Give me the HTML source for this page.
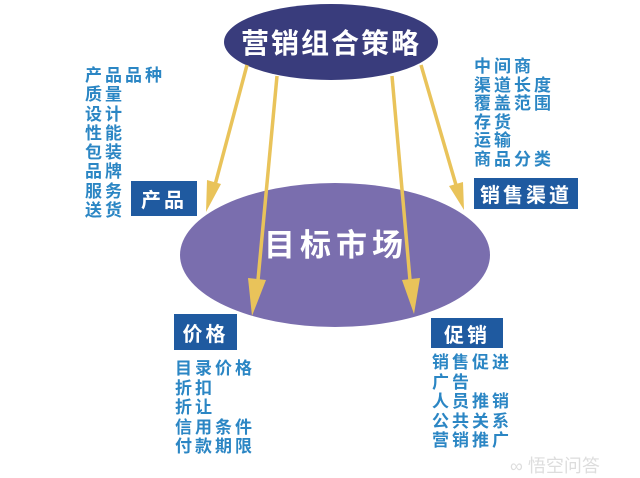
<!DOCTYPE html>
<html><head><meta charset="utf-8"><style>
body{margin:0;width:640px;height:478px;background:#fff;overflow:hidden;position:relative;font-family:"Liberation Sans","Noto Sans CJK SC",sans-serif;font-weight:bold}
.l{position:absolute;color:#2b86c4;font-size:17px;line-height:19.3px;letter-spacing:3px;white-space:pre}
.b{position:absolute;background:#1f5aa0;color:#fff;font-size:20px;display:flex;align-items:center;justify-content:center;letter-spacing:3px}
svg{position:absolute;left:0;top:0}
</style></head><body>
<svg width="640" height="478">
<defs><marker id="a" markerWidth="6" markerHeight="10" refX="3" refY="9" orient="auto" markerUnits="userSpaceOnUse" viewBox="0 0 6 10"></marker></defs>
<ellipse cx="331" cy="42" rx="107" ry="38" fill="#393c7c"/>
<ellipse cx="335" cy="255" rx="155" ry="72" fill="#7a6eae"/>
<g stroke="#e9c35a" stroke-width="3.5" fill="#e9c35a">
<line x1="247" y1="65" x2="215" y2="185"/>
<polygon points="206,212 207,180 221,184" stroke="none"/>
<line x1="277" y1="76" x2="258" y2="280"/>
<polygon points="252,316 248,278 266,280" stroke="none"/>
<line x1="392" y1="76" x2="410" y2="280"/>
<polygon points="414,314 402,280 420,278" stroke="none"/>
<line x1="421" y1="65" x2="456" y2="185"/>
<polygon points="464,210 449,186 463,182" stroke="none"/>
</g>
<text x="331" y="53" fill="#fff" font-size="28" text-anchor="middle" font-family="Liberation Sans,Noto Sans CJK SC,sans-serif" font-weight="bold" letter-spacing="2">营销组合策略</text>
<text x="336" y="256" fill="#fff" font-size="31" text-anchor="middle" font-family="Liberation Sans,Noto Sans CJK SC,sans-serif" font-weight="bold" letter-spacing="5">目标市场</text>
</svg>
<div class="l" style="left:85px;top:66px">产品品种
质量
设计
性能
包装
品牌
服务
送货</div>
<div class="l" style="left:474px;top:58px;line-height:18.6px">中间商
渠道长度
覆盖范围
存货
运输
商品分类</div>
<div class="l" style="left:175px;top:359px;line-height:19.5px">目录价格
折扣
折让
信用条件
付款期限</div>
<div class="l" style="left:432px;top:353px;line-height:19.5px">销售促进
广告
人员推销
公共关系
营销推广</div>
<div class="b" style="left:131px;top:181px;width:66px;height:35px">产品</div>
<div class="b" style="left:474px;top:178px;width:104px;height:31px">销售渠道</div>
<div class="b" style="left:174px;top:314px;width:63px;height:36px">价格</div>
<div class="b" style="left:431px;top:318px;width:72px;height:30px">促销</div>
<div style="position:absolute;left:510px;top:452px;color:#ddd;font-size:18px;font-weight:normal">∞ 悟空问答</div>
</body></html>
